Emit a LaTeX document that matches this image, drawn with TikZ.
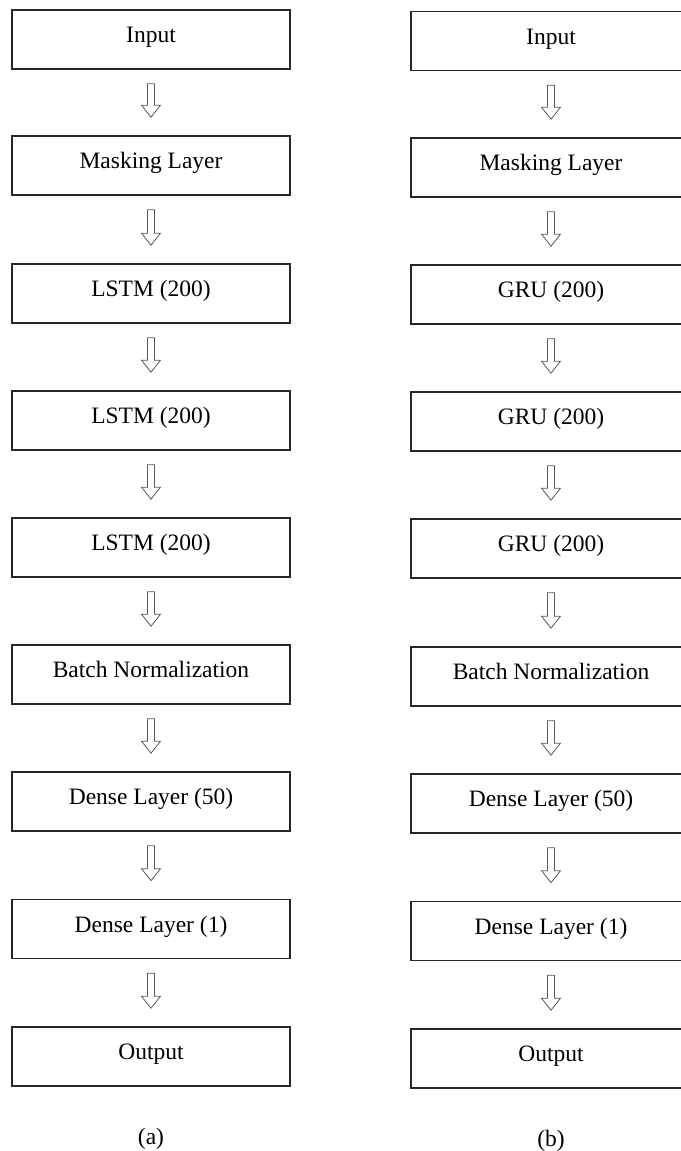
\documentclass[tikz,border=0pt]{standalone}
\usepackage{fontspec}
\setmainfont{Liberation Serif}
\usetikzlibrary{calc}

\tikzset{
  layer/.style={draw=black!85, line width=1.6pt, rectangle, inner sep=0pt,
    minimum height=59pt, text height=17pt, text depth=11pt,
    font=\fontsize{23.5}{27}\selectfont},
  leftlayer/.style={layer, minimum width=278pt},
  rightlayer/.style={layer, minimum width=280pt},
  arrowline/.style={draw=black!65, line width=0.8pt, fill=white, line join=miter},
  caption/.style={font=\fontsize{23.5}{27}\selectfont, inner sep=0pt}
}

% hollow block arrow from the bottom of one layer to the top of the next
\newcommand\layerarrow[2]{%
  \draw[arrowline] let \p1=(#1.south), \p2=(#2.north) in
    (\x1-3.5pt,\y1-14pt) -- (\x1+3.5pt,\y1-14pt) -- (\x1+3.5pt,\y2+30pt)
    -- (\x1+9.5pt,\y2+30pt) -- (\x1,\y2+18pt) -- (\x1-9.5pt,\y2+30pt)
    -- (\x1-3.5pt,\y2+30pt) -- cycle;}

\begin{document}
\begin{tikzpicture}[x=1pt,y=-1pt]
\useasboundingbox (0,0) rectangle (680,1151);

% (a) LSTM network
\node[leftlayer] (a1) at (151,39.5)   {Input};
\node[leftlayer] (a2) at (151,165.5)  {Masking Layer};
\node[leftlayer] (a3) at (151,293.5)  {LSTM (200)};
\node[leftlayer] (a4) at (151,420.5)  {LSTM (200)};
\node[leftlayer] (a5) at (151,547.5)  {LSTM (200)};
\node[leftlayer] (a6) at (151,674.5)  {Batch Normalization};
\node[leftlayer] (a7) at (151,801.5)  {Dense Layer (50)};
\node[leftlayer] (a8) at (151,929)    {Dense Layer (1)};
\node[leftlayer] (a9) at (151,1056.5) {Output};

% (b) GRU network
\node[rightlayer] (b1) at (551,41)   {Input};
\node[rightlayer] (b2) at (551,167.5) {Masking Layer};
\node[rightlayer] (b3) at (551,294.5) {GRU (200)};
\node[rightlayer] (b4) at (551,421.5) {GRU (200)};
\node[rightlayer] (b5) at (551,548.5) {GRU (200)};
\node[rightlayer] (b6) at (551,676.5) {Batch Normalization};
\node[rightlayer] (b7) at (551,803.5) {Dense Layer (50)};
\node[rightlayer] (b8) at (551,931)   {Dense Layer (1)};
\node[rightlayer] (b9) at (551,1058.5) {Output};

\foreach \i/\j in {1/2,2/3,3/4,4/5,5/6,6/7,7/8,8/9}{
  \layerarrow{a\i}{a\j}
  \layerarrow{b\i}{b\j}
}

\node[caption] (capa) at (151,1139) {(a)};
\node[caption] (capb) at (551,1141) {(b)};
\end{tikzpicture}
\end{document}
